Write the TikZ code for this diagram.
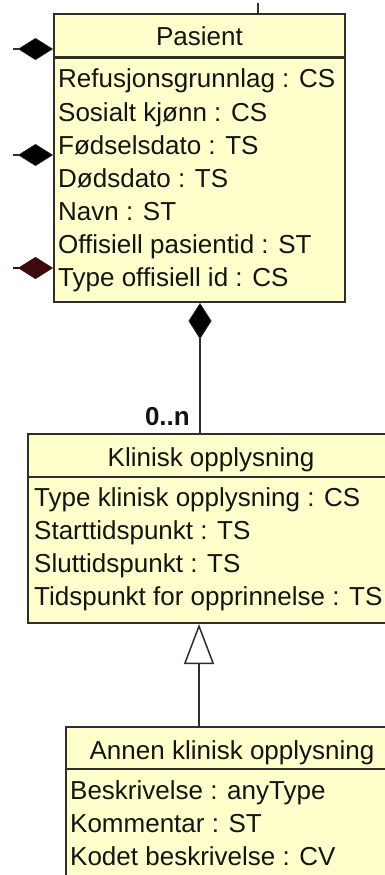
\documentclass[tikz,border=0pt]{standalone}
\usepackage{fontspec}
\setmainfont{Liberation Sans}
\usetikzlibrary{arrows.meta,calc}
\definecolor{boxfill}{HTML}{FFFFCC}
\definecolor{boxline}{HTML}{2E2E2E}
\definecolor{txt}{HTML}{141414}
\definecolor{darkred}{HTML}{3C0A0A}
\begin{document}
\begin{tikzpicture}[x=1pt,y=-1pt,
  classbox/.style={draw=boxline, line width=2pt, fill=boxfill, rectangle, anchor=north west, inner sep=0pt},
  sepline/.style={draw=boxline, line width=2.2pt},
  title/.style={anchor=base, text=txt, inner sep=0pt, font=\fontsize{26}{30}\selectfont},
  attr/.style={anchor=base west, text=txt, inner sep=0pt, font=\fontsize{26}{30}\selectfont},
  multlabel/.style={anchor=base east, text=txt, inner sep=0pt, font=\fontsize{26}{30}\selectfont\bfseries},
  conn/.style={draw=boxline, line width=1.5pt},
  comph/.style={conn, -{Diamond[length=35pt,width=22pt,fill=black,line width=0.5pt]}},
  compred/.style={draw=darkred, line width=1.5pt, -{Diamond[length=35pt,width=22pt,fill=darkred,line width=0.5pt]}},
  compv/.style={conn, -{Diamond[length=36pt,width=23pt,fill=black,line width=0.5pt]}},
  gen/.style={conn, -{Triangle[length=40pt,width=30pt,fill=white]}}
]
\useasboundingbox (0,0) rectangle (385,875);
\fill[white] (0,0) rectangle (385,875);

% Pasient
\node[classbox, minimum width=291pt, minimum height=288pt] (pas) at (53,13) {};
\draw[sepline] ($(pas.north west)+(0,44.5)$) -- ($(pas.north east)+(0,44.5)$);
\node[title] (pastitle) at ($(pas.north)+(0,33)$) {Pasient};
\node[attr] (pa1) at (58,88) {Refusjonsgrunnlag : CS};
\node[attr] (pa2) at (58,121) {Sosialt kjønn : CS};
\node[attr] (pa3) at (58,154) {Fødselsdato : TS};
\node[attr] (pa4) at (58,187) {Dødsdato : TS};
\node[attr] (pa5) at (58,220) {Navn : ST};
\node[attr] (pa6) at (58,253) {Offisiell pasientid : ST};
\node[attr] (pa7) at (58,286) {Type offisiell id : CS};

% Klinisk opplysning
\node[classbox, minimum width=366pt, minimum height=189pt] (klin) at (27,433) {};
\draw[sepline] ($(klin.north west)+(0,44)$) -- ($(klin.north east)+(0,44)$);
\node[title] (klintitle) at ($(klin.north)+(0,33)$) {Klinisk opplysning};
\node[attr] (ka1) at (34,506) {Type klinisk opplysning : CS};
\node[attr] (ka2) at (34,539) {Starttidspunkt : TS};
\node[attr] (ka3) at (34,572) {Sluttidspunkt : TS};
\node[attr] (ka4) at (34,605) {Tidspunkt for opprinnelse : TS};

% Annen klinisk opplysning
\node[classbox, minimum width=332pt, minimum height=200pt] (ann) at (65,726) {};
\draw[sepline] ($(ann.north west)+(0,43)$) -- ($(ann.north east)+(0,43)$);
\node[title] (anntitle) at ($(ann.north)+(0,33)$) {Annen klinisk opplysning};
\node[attr] (aa1) at (70,799) {Beskrivelse : anyType};
\node[attr] (aa2) at (70,832) {Kommentar : ST};
\node[attr] (aa3) at (70,865) {Kodet beskrivelse : CV};

% connectors leaving the picture
\coordinate (top) at (258,3);
\draw[conn] (top) -- (pas.north -| top);
\coordinate (l1) at (13,49);
\coordinate (l2) at (13,155);
\coordinate (l3) at (13,268);
\draw[comph] (l1) -- (pas.west |- l1);
\draw[comph] (l2) -- (pas.west |- l2);
\draw[compred] (l3) -- (pas.west |- l3);

% composition Pasient -- Klinisk opplysning
\coordinate (ax) at (200,0);
\draw[compv] (klin.north -| ax) -- (pas.south -| ax);
\node[multlabel] (mult) at (190,425) {0..n};

% generalization
\coordinate (gx) at (199,0);
\draw[gen] (ann.north -| gx) -- (klin.south -| gx);
\end{tikzpicture}
\end{document}
